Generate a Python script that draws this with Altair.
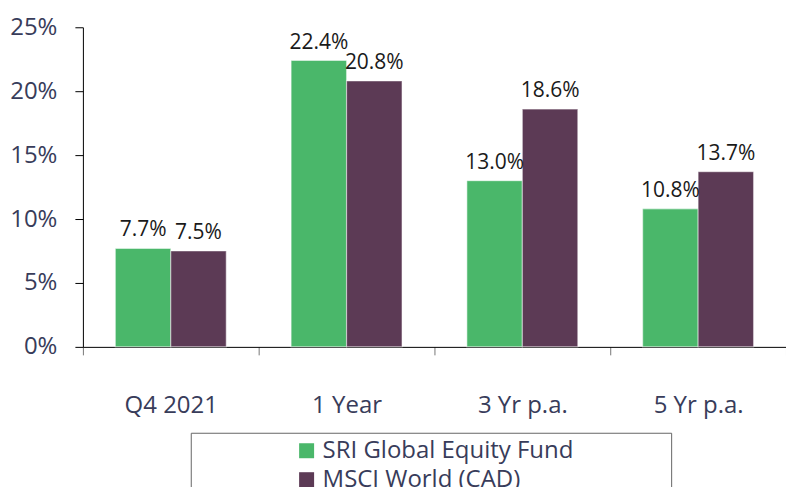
import altair as alt
import pandas as pd

periods = ["Q4 2021", "1 Year", "3 Yr p.a.", "5 Yr p.a."]
series = ["SRI Global Equity Fund", "MSCI World (CAD)"]
fund_values = [7.7, 22.4, 13.0, 10.8]
index_values = [7.5, 20.8, 18.6, 13.7]
colors = ["#4ab76a", "#5c3a55"]
y_ticks = [0, 5, 10, 15, 20, 25]

rows = []
for p, f, m in zip(periods, fund_values, index_values):
    rows.append({"period": p, "series": series[0], "value": f})
    rows.append({"period": p, "series": series[1], "value": m})
df = pd.DataFrame(rows)

FONT = "Open Sans"
NAVY = "#383c5a"

x_enc = alt.X(
    "period:N",
    sort=periods,
    scale=alt.Scale(paddingInner=0, paddingOuter=0),
    axis=alt.Axis(
        title=None,
        labelAngle=0,
        tickBand="extent",
        tickSize=8,
        tickColor="#777777",
        domainColor="#000000",
        labelFont=FONT,
        labelFontSize=24,
        labelColor=NAVY,
        labelPadding=39,
    ),
)
xoff_enc = alt.XOffset(
    "series:N", sort=series, scale=alt.Scale(paddingOuter=0.585, paddingInner=0)
)
y_enc = alt.Y(
    "value:Q",
    scale=alt.Scale(domain=[0, 25], nice=False, zero=True),
    axis=alt.Axis(
        title=None,
        values=y_ticks,
        labelExpr="datum.value + '%'",
        grid=False,
        domainColor="#000000",
        tickColor="#000000",
        tickSize=8,
        labelFont=FONT,
        labelFontSize=24,
        labelColor=NAVY,
        labelPadding=18,
    ),
)

bars = alt.Chart(df).mark_bar(
    stroke="#ffffff", strokeOpacity=0.45, strokeWidth=1.2
).encode(
    x=x_enc,
    xOffset=xoff_enc,
    y=y_enc,
    color=alt.Color(
        "series:N",
        sort=series,
        scale=alt.Scale(domain=series, range=colors),
        legend=alt.Legend(
            title="\u00a0",
            titleOrient="right",
            titlePadding=92,
            titleFontSize=2,
            orient="none",
            legendX=108,
            legendY=406,
            symbolType="square",
            symbolSize=225,
            symbolStrokeWidth=0,
            labelFont=FONT,
            labelFontSize=24,
            labelColor=NAVY,
            labelLimit=1000,
            labelOffset=4,
            strokeColor="#666666",
            fillColor="#ffffff",
            padding=6,
            rowPadding=5,
            symbolOffset=98,
        ),
    ),
)

labels = alt.Chart(df).transform_calculate(
    label="format(datum.value, '.1f') + '%'"
).mark_text(
    dy=-12, baseline="alphabetic", font=FONT, fontSize=21, color="#1a1a1a"
).encode(
    x=x_enc,
    xOffset=xoff_enc,
    y=y_enc,
    text="label:N",
)

chart = (
    alt.layer(bars, labels)
    .properties(
        width=704,
        height=320,
        autosize=alt.AutoSizeParams(type="none"),
        padding={"left": 83, "top": 27, "right": 0, "bottom": 140},
        background="#ffffff",
    )
    .configure_view(stroke=None)
)

chart.save("out.html", embed_options={"renderer": "svg", "actions": False})
